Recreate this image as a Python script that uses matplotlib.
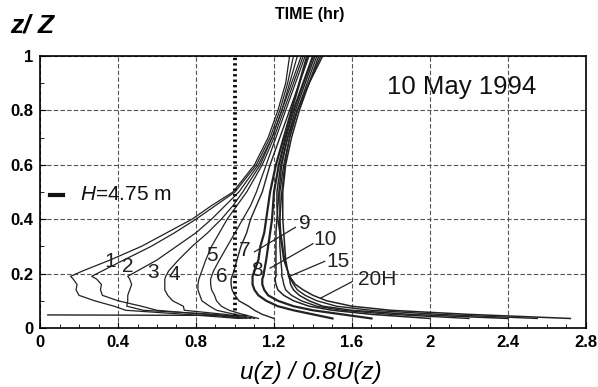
import numpy as np
import matplotlib.pyplot as plt
from matplotlib.ticker import MultipleLocator

plt.rcParams['font.family'] = ['Liberation Sans', 'DejaVu Sans']
plt.rcParams['mathtext.fontset'] = 'custom'
plt.rcParams['mathtext.it'] = 'Liberation Sans:italic'
plt.rcParams['mathtext.rm'] = 'Liberation Sans'

# common height levels z/Z
z = [0.035, 0.05, 0.065, 0.08, 0.10, 0.12, 0.14, 0.16, 0.18, 0.19, 0.21,
     0.25, 0.30, 0.35, 0.40, 0.45, 0.50, 0.60, 0.70, 0.80, 0.90, 1.00]

# u(z)/0.8U(z) profiles, one list per hour
u_1h = [1.02, 0.75, 0.44, 0.38, 0.28, 0.20, 0.185, 0.19, 0.17, 0.157, 0.22,
        0.36, 0.52, 0.65, 0.78, 0.88, 0.99, 1.10, 1.17, 1.22, 1.26, 1.28]
u_2h = [1.04, 0.85, 0.60, 0.52, 0.40, 0.32, 0.31, 0.315, 0.29, 0.265, 0.32,
        0.43, 0.57, 0.69, 0.80, 0.90, 1.00, 1.11, 1.18, 1.23, 1.27, 1.30]
u_3h = [1.06, 0.90, 0.53, 0.445, 0.45, 0.45, 0.46, 0.47, 0.46, 0.45, 0.50,
        0.60, 0.70, 0.80, 0.88, 0.95, 1.02, 1.12, 1.19, 1.24, 1.28, 1.32]
u_4h = [1.08, 0.95, 0.74, 0.735, 0.68, 0.655, 0.64, 0.64, 0.64, 0.645, 0.66,
        0.71, 0.78, 0.86, 0.93, 0.99, 1.04, 1.13, 1.19, 1.24, 1.29, 1.34]
u_5h = [1.10, 1.00, 0.906, 0.87, 0.83, 0.82, 0.81, 0.81, 0.815, 0.82, 0.83,
        0.85, 0.88, 0.92, 0.96, 1.01, 1.06, 1.14, 1.20, 1.25, 1.30, 1.35]
u_6h = [1.12, 1.04, 0.97, 0.93, 0.905, 0.895, 0.88, 0.875, 0.875, 0.88, 0.89,
        0.92, 0.96, 1.00, 1.04, 1.08, 1.11, 1.16, 1.21, 1.26, 1.31, 1.36]
u_7h = [1.20, 1.14, 1.10, 1.07, 1.02, 1.00, 0.985, 0.98, 0.98, 0.985, 0.995,
        1.01, 1.03, 1.06, 1.08, 1.11, 1.14, 1.18, 1.23, 1.28, 1.33, 1.38]
u_8h = [1.50, 1.40, 1.30, 1.22, 1.16, 1.12, 1.10, 1.09, 1.09, 1.09, 1.10,
        1.12, 1.13, 1.15, 1.16, 1.17, 1.18, 1.21, 1.25, 1.29, 1.33, 1.37]
u_9h = [1.70, 1.55, 1.40, 1.30, 1.22, 1.17, 1.15, 1.14, 1.14, 1.145, 1.15,
        1.16, 1.17, 1.18, 1.19, 1.195, 1.20, 1.225, 1.26, 1.30, 1.35, 1.40]
u_10h = [2.00, 1.70, 1.50, 1.38, 1.30, 1.25, 1.22, 1.21, 1.205, 1.21, 1.21,
         1.21, 1.21, 1.21, 1.215, 1.22, 1.225, 1.24, 1.27, 1.31, 1.36, 1.41]
u_12h = [2.20, 1.80, 1.55, 1.42, 1.34, 1.29, 1.26, 1.25, 1.245, 1.24, 1.24,
         1.235, 1.23, 1.23, 1.23, 1.235, 1.24, 1.255, 1.28, 1.32, 1.37, 1.42]
u_15h = [2.40, 1.90, 1.60, 1.45, 1.38, 1.33, 1.30, 1.285, 1.28, 1.275, 1.27,
         1.26, 1.255, 1.25, 1.245, 1.245, 1.245, 1.26, 1.29, 1.33, 1.38, 1.43]
u_18h = [2.55, 2.05, 1.70, 1.52, 1.42, 1.36, 1.32, 1.30, 1.285, 1.28, 1.27,
         1.255, 1.245, 1.235, 1.23, 1.23, 1.23, 1.25, 1.28, 1.32, 1.38, 1.44]
u_20h = [2.72, 2.20, 1.80, 1.60, 1.47, 1.40, 1.35, 1.31, 1.29, 1.28, 1.27,
         1.25, 1.24, 1.23, 1.22, 1.215, 1.215, 1.235, 1.27, 1.32, 1.38, 1.45]

profiles = [u_1h, u_2h, u_3h, u_4h, u_5h, u_6h, u_7h, u_8h, u_9h, u_10h,
            u_12h, u_15h, u_18h, u_20h]
widths = [0.9, 0.9, 0.9, 0.9, 0.9, 0.9, 1.0, 1.6, 1.6, 1.1, 1.0, 1.1, 1.0, 1.1]

# lowest measurement level segment
base_u = [0.04, 1.06]
base_z = [0.048, 0.046]

# hour labels and their positions
labels = ['1', '2', '3', '4', '5', '6', '7', '8', '9', '10', '15', '20H']
label_u = [0.36, 0.45, 0.58, 0.69, 0.88, 0.93, 1.05, 1.11, 1.36, 1.46, 1.53, 1.73]
label_z = [0.245, 0.225, 0.205, 0.195, 0.265, 0.19, 0.285, 0.21, 0.385, 0.325, 0.245, 0.18]
# leader lines: from label to curve
lead_u0 = [1.31, 1.40, 1.46, 1.60]
lead_z0 = [0.37, 0.31, 0.245, 0.17]
lead_u1 = [1.10, 1.18, 1.28, 1.44]
lead_z1 = [0.28, 0.22, 0.19, 0.11]

fig = plt.figure(figsize=(5.98, 3.87), dpi=100)
ax = fig.add_axes([0.0669, 0.1525, 0.913, 0.703])

lc = '#222222'
for u, w in zip(profiles, widths):
    ax.plot(u, z, color=lc, lw=w)
ax.plot(base_u, base_z, color=lc, lw=1.0)
for a, b, c, d in zip(lead_u0, lead_z0, lead_u1, lead_z1):
    ax.plot([a, c], [b, d], color=lc, lw=0.9)

ax.plot([1.0, 1.0], [0.045, 1.0], color='#111111', lw=2.8, ls=(0, (0.6, 0.8)))

for t, x, y in zip(labels, label_u, label_z):
    ax.text(x, y, t, fontsize=15, ha='center', va='center', color='#222222')

ax.text(2.16, 0.886, '10 May 1994', fontsize=18.5, ha='center', va='center', color='#111111')
ax.plot([0.05, 0.12], [0.49, 0.49], color='#111111', lw=3)
ax.text(0.205, 0.49, r'$\mathit{H}$=4.75 m', fontsize=15, ha='left', va='center', color='#111111')

ax.set_xlim(0, 2.8)
ax.set_ylim(0, 1)
ax.xaxis.set_major_locator(MultipleLocator(0.4))
ax.xaxis.set_minor_locator(MultipleLocator(0.1))
ax.yaxis.set_major_locator(MultipleLocator(0.2))
ax.yaxis.set_minor_locator(MultipleLocator(0.1))
ax.set_xticks([0, 0.4, 0.8, 1.2, 1.6, 2.0, 2.4, 2.8],
              ['0', '0.4', '0.8', '1.2', '1.6', '2', '2.4', '2.8'])
ax.set_yticks([0, 0.2, 0.4, 0.6, 0.8, 1.0], ['0', '0.2', '0.4', '0.6', '0.8', '1'])
ax.tick_params(which='both', direction='in', labelsize=12)
ax.tick_params(which='major', length=4, pad=5)
ax.tick_params(which='minor', length=3)
for lab in ax.get_xticklabels() + ax.get_yticklabels():
    lab.set_fontweight('bold')
ax.grid(True, which='major', color='#555555', ls=(0, (4, 2)), lw=0.8)
for s in ax.spines.values():
    s.set_linewidth(1.2)

fig.text(0.518, 0.962, 'TIME (hr)', fontsize=11.5, fontweight='bold', ha='center', va='center')
fig.text(0.053, 0.933, 'z/ Z', fontsize=19, fontweight='bold', style='italic', ha='center', va='center')
fig.text(0.52, 0.038, 'u(z) / 0.8U(z)', fontsize=17.5, style='italic', ha='center', va='center')

plt.savefig('out.png', dpi=100)
